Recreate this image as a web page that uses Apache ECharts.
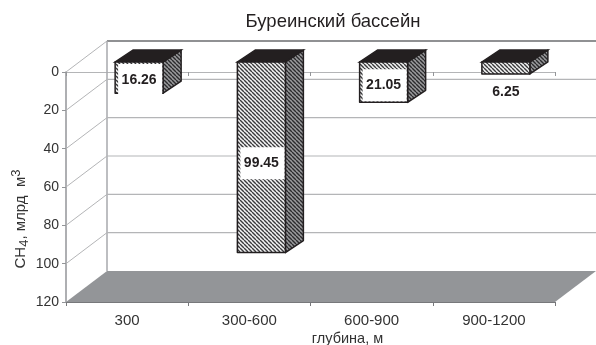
<!DOCTYPE html>
<html>
<head>
<meta charset="utf-8">
<style>
  html, body { margin: 0; padding: 0; background: #fff; }
  #chart { width: 596px; height: 345px; }
</style>
<script src="https://cdn.jsdelivr.net/npm/echarts@6/dist/echarts.min.js"></script>
</head>
<body>
<div id="chart"></div>
<script>
const categories = ['300', '300-600', '600-900', '900-1200']
const values = [16.26, 99.45, 21.05, 6.25]
const yTicks = [0, 20, 40, 60, 80, 100, 120]

// псевдо-3D: сдвиг задней стенки, сдвиг и глубина столбика
const WALL_DX = 41
const WALL_DY = -31
const BAR_DX = 12
const BAR_DY = -10
const DEPTH_DX = 18
const DEPTH_DY = -12
const BAR_W = 48
const FONT = '"Liberation Sans", Arial, sans-serif'
const DARK = '#231f20'
const GRID = '#b4b5b7'

// сдвиг подписи от середины столбика, у последней подписи нет белой плашки
const labelShift = [1.5, 5, 2, 23]
const labelBox = [true, true, true, false]

function hatch(stripe, back, size) {
  const c = document.createElement('canvas')
  c.width = size
  c.height = size
  const ctx = c.getContext('2d')
  ctx.fillStyle = back
  ctx.fillRect(0, 0, size, size)
  ctx.strokeStyle = stripe
  ctx.lineWidth = 1.4
  for (let i = -size; i <= size; i += size) {
    ctx.beginPath()
    ctx.moveTo(i, 0)
    ctx.lineTo(i + size, size)
    ctx.stroke()
  }
  return { image: c, repeat: 'repeat' }
}

const frontFill = hatch('#3a3a3c', '#f4f4f4', 4)
const sideFill = hatch('#2b2b2d', '#9a9a9c', 4)

function renderWall(params, api) {
  const v = api.value(0)
  const cs = params.coordSys
  const y = api.coord([0, v])[1]
  const left = cs.x
  const right = cs.x + cs.width
  const children = []
  if (v === yTicks[yTicks.length - 1]) {
    children.push({
      type: 'polygon',
      shape: { points: [[left, y], [right, y], [right + WALL_DX, y + WALL_DY], [left + WALL_DX, y + WALL_DY]] },
      style: { fill: '#939598' }
    })
    return { type: 'group', children }
  }
  children.push({
    type: 'line',
    shape: { x1: left, y1: y, x2: left + WALL_DX, y2: y + WALL_DY },
    style: { stroke: GRID, lineWidth: 1 }
  })
  children.push({
    type: 'line',
    shape: { x1: left + WALL_DX, y1: y + WALL_DY, x2: right + WALL_DX, y2: y + WALL_DY },
    style: { stroke: GRID, lineWidth: 1.2 }
  })
  if (v === 0) {
    // верх и левый край задней стенки
    const top = y + WALL_DY
    const bottom = api.coord([0, yTicks[yTicks.length - 1]])[1] + WALL_DY
    children.push({
      type: 'line',
      shape: { x1: left + WALL_DX, y1: top, x2: right + WALL_DX, y2: top },
      style: { stroke: '#77787b', lineWidth: 1.5 }
    })
    children.push({
      type: 'line',
      shape: { x1: left + WALL_DX, y1: top, x2: left + WALL_DX, y2: bottom },
      style: { stroke: '#a7a9ac', lineWidth: 1.5 }
    })
  }
  return { type: 'group', children }
}

function renderBar(params, api) {
  const i = api.value(0)
  const x = api.coord([i, 0])[0] + BAR_DX - BAR_W / 2
  const top = api.coord([i, 0])[1] + BAR_DY
  const bottom = api.coord([i, api.value(1)])[1] + BAR_DY
  const r = x + BAR_W
  const mid = (top + bottom) / 2 + labelShift[i]
  const line = { stroke: DARK, lineWidth: 1.5, lineJoin: 'round' }
  const children = [
    {
      type: 'polygon',
      shape: { points: [[r, top], [r + DEPTH_DX, top + DEPTH_DY], [r + DEPTH_DX, bottom + DEPTH_DY], [r, bottom]] },
      style: Object.assign({ fill: sideFill }, line)
    },
    {
      type: 'polygon',
      shape: { points: [[x, top], [r, top], [r + DEPTH_DX, top + DEPTH_DY], [x + DEPTH_DX, top + DEPTH_DY]] },
      style: { fill: DARK, stroke: DARK, lineWidth: 1.5 }
    },
    {
      type: 'rect',
      shape: { x: x, y: top, width: BAR_W, height: bottom - top },
      style: Object.assign({ fill: frontFill }, line)
    }
  ]
  if (labelBox[i]) {
    children.push({
      type: 'rect',
      shape: { x: x + 3, y: mid - 15, width: BAR_W - 4, height: 32 },
      style: { fill: '#fff' }
    })
  }
  children.push({
    type: 'text',
    style: {
      text: api.value(1).toFixed(2),
      x: x + BAR_W / 2,
      y: mid + 1,
      align: 'center',
      verticalAlign: 'middle',
      font: 'bold 14px ' + FONT,
      fill: DARK
    }
  })
  return { type: 'group', children }
}

const myChart = echarts.init(document.getElementById('chart'), null, { renderer: 'canvas' })

const option = {
  animation: false,
  backgroundColor: '#fff',
  title: {
    text: 'Буреинский бассейн',
    left: 328,
    top: 7,
    textAlign: 'center',
    textStyle: { fontFamily: FONT, fontSize: 18.5, fontWeight: 'normal', color: DARK }
  },
  grid: { left: 66, right: 41, top: 72, bottom: 43, outerBoundsMode: 'none' },
  xAxis: [{
    type: 'category',
    data: categories,
    position: 'bottom',
    name: 'глубина, м',
    nameLocation: 'middle',
    nameGap: 29,
    nameMoveOverlap: false,
    nameTextStyle: { fontFamily: FONT, fontSize: 14.5, color: '#333', padding: [0, 0, 0, 74] },
    axisLine: { onZero: false, lineStyle: { color: '#77787b', width: 1 } },
    axisTick: { show: true, length: 4, alignWithLabel: false, lineStyle: { color: '#77787b' } },
    axisLabel: { fontFamily: FONT, fontSize: 15, color: '#333', margin: 11 }
  }, {
    type: 'category',
    data: categories,
    position: 'top',
    axisLine: { onZero: false, lineStyle: { color: GRID, width: 1 } },
    axisTick: { show: true, inside: true, length: 4, lineStyle: { color: '#939598' } },
    axisLabel: { show: false }
  }],
  yAxis: {
    type: 'value',
    inverse: true,
    min: 0,
    max: 120,
    interval: 20,
    name: 'CH{sub|4}, млрд  м{sup|3}',
    nameLocation: 'middle',
    nameRotate: 90,
    nameGap: 35,
    nameMoveOverlap: false,
    nameTextStyle: {
      fontFamily: FONT,
      fontSize: 15,
      color: '#333',
      padding: [0, 64, 0, 0],
      rich: {
        sub: { fontFamily: FONT, fontSize: 13, color: '#333', padding: [8, 0, 0, 0] },
        sup: { fontFamily: FONT, fontSize: 13, color: '#333', padding: [0, 0, 8, 0] }
      }
    },
    axisLine: { show: true, onZero: false, lineStyle: { color: '#939598', width: 1.5 } },
    axisTick: { show: true, length: 4, lineStyle: { color: '#939598' } },
    axisLabel: { fontFamily: FONT, fontSize: 14, color: '#333', margin: 7 },
    splitLine: { show: false }
  },
  series: [{
    type: 'custom',
    name: 'стенки',
    silent: true,
    z: 1,
    clip: false,
    renderItem: renderWall,
    encode: { y: 0 },
    data: yTicks.map(v => [v])
  }, {
    type: 'custom',
    name: 'CH4',
    z: 5,
    clip: false,
    renderItem: renderBar,
    encode: { x: 0, y: 1 },
    data: values.map((v, i) => [i, v])
  }]
}

myChart.setOption(option)
</script>
</body>
</html>
